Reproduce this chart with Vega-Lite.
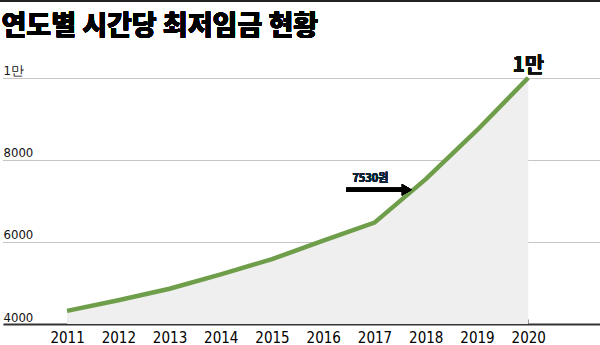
{
  "$schema": "https://vega.github.io/schema/vega-lite/v6.json",
  "autosize": {"type": "none"},
  "width": 597,
  "height": 274,
  "padding": {"left": 3, "top": 50, "right": 0, "bottom": 21},
  "background": "white",
  "config": {
    "view": {"stroke": null}
  },
  "data": {
    "values": [
      {"year": 2011, "wage": 4320},
      {"year": 2012, "wage": 4580},
      {"year": 2013, "wage": 4860},
      {"year": 2014, "wage": 5210},
      {"year": 2015, "wage": 5580},
      {"year": 2016, "wage": 6030},
      {"year": 2017, "wage": 6470},
      {"year": 2018, "wage": 7530},
      {"year": 2019, "wage": 8720},
      {"year": 2020, "wage": 10000}
    ]
  },
  "layer": [
    {
      "mark": {"type": "area", "color": "#efefef", "opacity": 1},
      "encoding": {
        "x": {
          "field": "year",
          "type": "quantitative",
          "scale": {"domain": [2009.75, 2021.4], "nice": false, "zero": false},
          "axis": {
            "title": null,
            "values": [2011, 2012, 2013, 2014, 2015, 2016, 2017, 2018, 2019, 2020],
            "format": "d",
            "grid": false,
            "domainColor": "#333333",
            "domainWidth": 2,
            "ticks": true,
            "tickSize": -5,
            "tickColor": "#777777",
            "tickWidth": 1,
            "labelPadding": 11,
            "labelFont": "DejaVu Sans Condensed",
            "labelFontSize": 15,
            "labelColor": "#000000",
            "labelBaseline": "top"
          }
        },
        "y": {
          "field": "wage",
          "type": "quantitative",
          "scale": {"domain": [4000, 10675], "nice": false, "zero": false},
          "axis": {
            "title": null,
            "values": [4000, 6000, 8000, 10000],
            "labelExpr": "datum.value == 10000 ? '1만' : datum.value",
            "domain": false,
            "ticks": false,
            "grid": true,
            "gridColor": "#8a8a8a",
            "gridDash": [1, 1],
            "gridWidth": 1,
            "labelAlign": "left",
            "labelBaseline": "alphabetic",
            "labelPadding": 0,
            "labelOffset": -3,
            "labelFont": "DejaVu Sans Condensed",
            "labelFontSize": 13,
            "labelColor": "#111111"
          }
        },
        "y2": {"datum": 4000}
      }
    },
    {
      "mark": {"type": "line", "color": "#6f9e4b", "strokeWidth": 4.5},
      "encoding": {
        "x": {"field": "year", "type": "quantitative"},
        "y": {"field": "wage", "type": "quantitative"}
      }
    },
    {
      "mark": {"type": "rule", "color": "#222222", "strokeWidth": 3, "clip": false},
      "encoding": {
        "x": {"datum": 2009.69},
        "x2": {"datum": 2021.4},
        "y": {"datum": 11890}
      }
    },
    {
      "mark": {"type": "text", "text": "연도별 시간당 최저임금 현황", "font": "Noto Sans CJK KR", "fontSize": 27, "fontWeight": 900, "color": "#000000", "baseline": "alphabetic", "align": "left"},
      "encoding": {
        "x": {"datum": 2009.72},
        "y": {"datum": 11050}
      }
    },
    {
      "mark": {"type": "text", "text": "1만", "font": "Noto Sans CJK KR", "fontSize": 21, "fontWeight": "bold", "color": "#111111", "baseline": "alphabetic", "align": "center"},
      "encoding": {
        "x": {"datum": 2020.0},
        "y": {"datum": 10150}
      }
    },
    {
      "mark": {"type": "text", "text": "7530원", "font": "Noto Sans CJK KR", "fontSize": 11, "fontWeight": "bold", "color": "#0b2436", "baseline": "alphabetic", "align": "center"},
      "encoding": {
        "x": {"datum": 2016.92},
        "y": {"datum": 7460}
      }
    },
    {
      "mark": {"type": "rule", "color": "#000000", "strokeWidth": 4},
      "encoding": {
        "x": {"datum": 2016.45},
        "x2": {"datum": 2017.6},
        "y": {"datum": 7270}
      }
    },
    {
      "mark": {"type": "point", "shape": "triangle-right", "filled": true, "color": "#000000", "size": 130, "opacity": 1},
      "encoding": {
        "x": {"datum": 2017.63},
        "y": {"datum": 7270}
      }
    }
  ]
}
